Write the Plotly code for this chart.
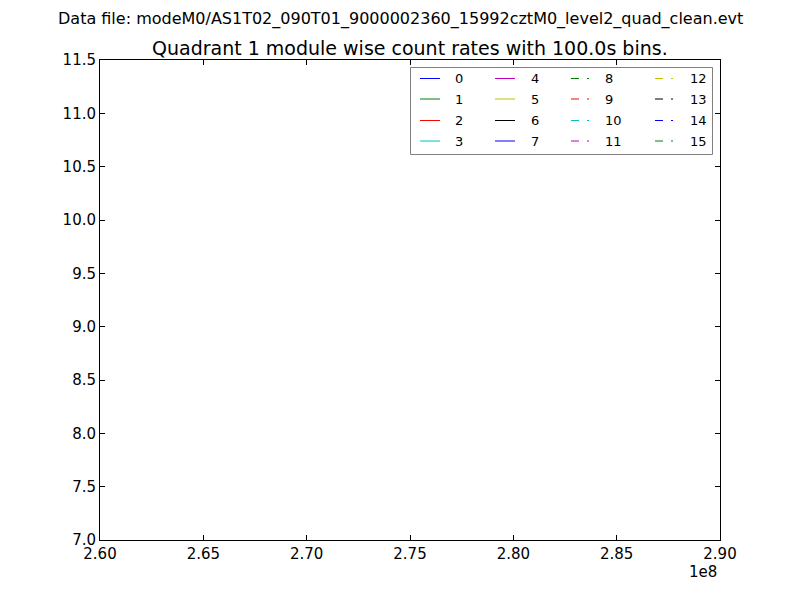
import plotly.graph_objects as go

# ---- data ----
modules = [str(i) for i in range(16)]
# the light curves in the reference are empty (no points drawn)
times = [[] for _ in modules]
rates = [[] for _ in modules]
x_tick_vals = [2.60e8, 2.65e8, 2.70e8, 2.75e8, 2.80e8, 2.85e8, 2.90e8]
x_tick_text = ["2.60", "2.65", "2.70", "2.75", "2.80", "2.85", "2.90"]
y_tick_vals = [7.0, 7.5, 8.0, 8.5, 9.0, 9.5, 10.0, 10.5, 11.0, 11.5]
y_tick_text = ["7.0", "7.5", "8.0", "8.5", "9.0", "9.5", "10.0", "10.5", "11.0", "11.5"]
x_range = [2.60e8, 2.90e8]
y_range = [7.0, 11.5]
suptitle = "Data file: modeM0/AS1T02_090T01_9000002360_15992cztM0_level2_quad_clean.evt"
title = "Quadrant 1 module wise count rates with 100.0s bins."

# ---- styles ----
colors = ["#0000ff", "#008000", "#ff0000", "#00bfbf", "#bf00bf", "#bfbf00", "#000000"]
FONT = "DejaVu Sans"
OFF = 8  # page body margin
W, H = 800 - OFF, 600 - OFF
# plot area in screen pixels: x 100..720, y 60..540
X0, X1, Y0, Y1 = 100, 720, 60, 540
L, T = X0 - OFF, Y0 - OFF
R, B = W - (X1 - OFF), H - (Y1 - OFF)
PW, PH = X1 - X0, Y1 - Y0

def px(x):
    return (x - X0) / PW

def py(y):
    return (Y1 - y) / PH

fig = go.Figure()
shapes = []
annotations = []

for i, name in enumerate(modules):
    col = colors[i % 7]
    dash = "solid" if i < 8 else "7px,8px"
    fig.add_trace(go.Scatter(x=times[i], y=rates[i], mode="lines", name=name,
                             line=dict(color=col, width=1, dash=dash),
                             showlegend=False))

# manual legend (matplotlib style, 4 columns, column-major)
shapes.append(dict(type="rect", xref="paper", yref="paper",
                   x0=px(410.5), x1=px(712.5), y0=py(154.5), y1=py(67.5),
                   line=dict(color="#808080", width=1), fillcolor="white"))
col_line_x = [420, 495, 571, 655]
col_text_x = [455, 531, 605, 690]
row_y = [78.5, 99.0, 120.5, 141.0]
text_y = [78.5, 99.5, 120.5, 141.5]
for i, name in enumerate(modules):
    c, r = divmod(i, 4)
    col = colors[i % 7]
    yy = py(row_y[r])
    if i < 8:
        segs = [(0, 20)]
    else:
        segs = [(0, 8), (16, 18)]
    for a, b in segs:
        shapes.append(dict(type="line", xref="paper", yref="paper",
                           x0=px(col_line_x[c] + a), x1=px(col_line_x[c] + b), y0=yy, y1=yy,
                           line=dict(color=col, width=1)))
    annotations.append(dict(text=name, xref="paper", yref="paper", x=px(col_text_x[c] - 2),
                            y=py(text_y[r]),
                            xanchor="left", yanchor="middle", showarrow=False,
                            font=dict(family=FONT, size=13, color="black")))

annotations.append(dict(text="1e8", xref="paper", yref="paper", x=px(719), y=py(572),
                        xanchor="right", yanchor="middle", showarrow=False,
                        font=dict(family=FONT, size=15, color="black")))
annotations.append(dict(text=suptitle, xref="paper", yref="paper", x=px(400), y=py(19),
                        xanchor="center", yanchor="middle", showarrow=False,
                        font=dict(family=FONT, size=16, color="black")))
annotations.append(dict(text=title, xref="paper", yref="paper", x=0.5, y=py(48),
                        xanchor="center", yanchor="middle", showarrow=False,
                        font=dict(family=FONT, size=19, color="black")))

axis_common = dict(showgrid=False, zeroline=False, showline=True, mirror="ticks",
                   linecolor="black", linewidth=1, ticks="inside", ticklen=5,
                   tickcolor="black", tickfont=dict(family=FONT, size=15, color="black"))

fig.update_layout(
    width=W, height=H,
    margin=dict(l=L, r=R, t=T, b=B, autoexpand=False),
    paper_bgcolor="white", plot_bgcolor="white",
    xaxis=dict(range=x_range, tickvals=x_tick_vals, ticktext=x_tick_text, ticklabelstandoff=0,
               **axis_common),
    yaxis=dict(range=y_range, tickvals=y_tick_vals, ticktext=y_tick_text, ticklabelstandoff=0,
               **axis_common),
    shapes=shapes, annotations=annotations,
    font=dict(family=FONT),
)

fig.write_html("out.html")
